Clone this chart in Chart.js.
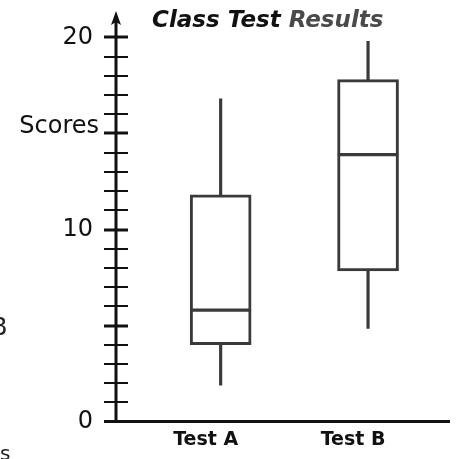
<!DOCTYPE html>
<html>
<head>
<meta charset="utf-8">
<script src="https://cdn.jsdelivr.net/npm/chart.js@4.4.1/dist/chart.umd.min.js"></script>
<style>
  html, body { margin: 0; padding: 0; background: #fff; }
  #wrap { width: 458px; height: 459px; position: relative; }
</style>
</head>
<body>
<div id="wrap"><canvas id="box-chart"></canvas></div>
<script>
// Resultados dos testes da turma (diagrama de caixa)
const categories = ["Test A", "Test B"];
const minScores = [1.9, 4.85];
const q1Scores = [4.0, 7.85];
const medianScores = [5.8, 13.9];
const q3Scores = [11.8, 17.8];
const maxScores = [16.8, 19.8];
const yTickLabels = [0, 10, 20];

const lineColor = "#3a3a3a";
const axisColor = "#111";

function points(lo, hi) {
	return categories.map((c, i) => ({ x: i + 1, y: [lo[i], hi[i]] }));
}

// eixos desenhados à mão: linhas, marcas cruzadas, seta e textos
const axesPlugin = {
	id: "axesPlugin",
	afterDraw(chart) {
		const c = chart.ctx;
		const area = chart.chartArea;
		const y = chart.scales.y;
		const x0 = area.left;
		const y0 = area.bottom;

		c.save();
		c.strokeStyle = axisColor;
		c.fillStyle = axisColor;
		c.lineCap = "butt";

		// eixo x
		c.lineWidth = 3;
		c.beginPath();
		c.moveTo(x0 - 12, y0);
		c.lineTo(area.right, y0);
		c.stroke();

		// eixo y
		c.beginPath();
		c.moveTo(x0, y0);
		c.lineTo(x0, 18);
		c.stroke();

		// seta
		c.beginPath();
		c.moveTo(x0, 11);
		c.lineTo(x0 - 5, 25);
		c.lineTo(x0, 22);
		c.lineTo(x0 + 5, 25);
		c.closePath();
		c.fill();

		// marcas a cada ponto
		for (let v = 1; v <= 20; v++) {
			const py = Math.round(y.getPixelForValue(v));
			c.lineWidth = v % 5 === 0 ? 3 : 2;
			c.beginPath();
			c.moveTo(x0 - 12, py);
			c.lineTo(x0 + 12, py);
			c.stroke();
		}

		// título em duas cores
		c.font = "italic bold 23px 'DejaVu Sans'";
		c.textBaseline = "alphabetic";
		c.textAlign = "left";
		c.fillStyle = "#111";
		const first = "Class Test ";
		c.fillText(first, 152, 27);
		c.fillStyle = "#4a4a4a";
		c.fillText("Results", 152 + c.measureText(first).width, 27);

		// rótulo do eixo y
		c.font = "24px 'DejaVu Sans'";
		c.fillStyle = "#111";
		c.textAlign = "right";
		c.fillText("Scores", 99, 133);

		// restos de texto na margem
		c.fillStyle = "#222";
		c.textAlign = "left";
		c.fillText("B", -9, 335);
		c.font = "20px 'DejaVu Sans'";
		c.fillText("s", 0, 460);

		c.restore();
	}
};

const ctx = document.getElementById("box-chart");

new Chart(ctx, {
	type: "bar",
	data: {
		datasets: [
			{
				label: "Q1 - Mediana",
				data: points(q1Scores, medianScores),
				backgroundColor: "#fff",
				borderColor: lineColor,
				borderWidth: { top: 2, bottom: 3, left: 3, right: 3 },
				borderSkipped: false,
				barThickness: 61,
				grouped: false,
				order: 1
			},
			{
				label: "Mediana - Q3",
				data: points(medianScores, q3Scores),
				backgroundColor: "#fff",
				borderColor: lineColor,
				borderWidth: { top: 3, bottom: 2, left: 3, right: 3 },
				borderSkipped: false,
				barThickness: 61,
				grouped: false,
				order: 1
			},
			{
				label: "Bigodes",
				data: points(minScores, maxScores),
				backgroundColor: lineColor,
				borderWidth: 0,
				barThickness: 2.5,
				grouped: false,
				order: 2
			}
		]
	},
	options: {
		responsive: true,
		maintainAspectRatio: false,
		animation: false,
		layout: { padding: { top: 36, right: 8, left: 0, bottom: 0 } },
		plugins: {
			legend: { display: false },
			tooltip: { enabled: false }
		},
		scales: {
			x: {
				type: "linear",
				offset: false,
				min: 0.29,
				max: 2.556,
				grid: { display: false, drawTicks: false },
				border: { display: false },
				afterBuildTicks: function (scale) {
					scale.ticks = categories.map((c, i) => ({ value: i + 1 }));
				},
				afterFit: function (scale) {
					scale.height = 28;
				},
				ticks: {
					autoSkip: false,
					maxRotation: 0,
					padding: 7,
					labelOffset: -15,
					color: "#111",
					font: { family: "DejaVu Sans", size: 19, weight: "bold" },
					callback: function (valor) {
						return categories[valor - 1];
					}
				}
			},
			y: {
				min: 0,
				max: 20,
				grid: { display: false, drawTicks: false },
				border: { display: false },
				afterFit: function (scale) {
					scale.width = 116;
				},
				ticks: {
					stepSize: 1,
					autoSkip: false,
					padding: 23,
					color: "#111",
					font: { family: "DejaVu Sans", size: 24 },
					callback: function (valor) {
						return yTickLabels.includes(valor) ? valor : "";
					}
				}
			}
		}
	},
	plugins: [axesPlugin]
});
</script>
</body>
</html>
